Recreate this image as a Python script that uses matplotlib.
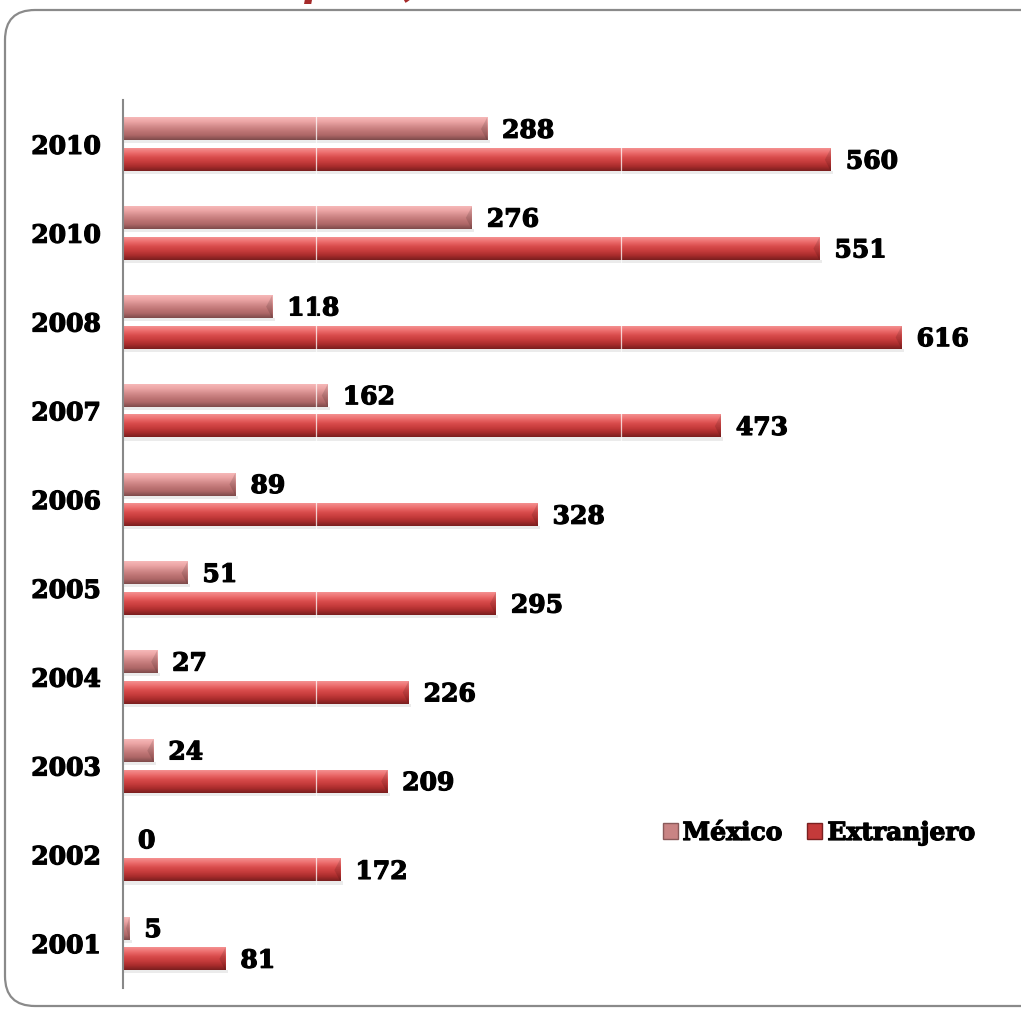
import numpy as np
import matplotlib.pyplot as plt
import matplotlib.patheffects as pe
from matplotlib.colors import LinearSegmentedColormap
from matplotlib.patches import FancyBboxPatch

# Data (top to bottom, as in the reference)
years = ["2010", "2010", "2008", "2007", "2006", "2005", "2004", "2003", "2002", "2001"]
mexico = [288, 276, 118, 162, 89, 51, 27, 24, 0, 5]
extranjero = [560, 551, 616, 473, 328, 295, 226, 209, 172, 81]
series_names = ["México", "Extranjero"]
grid_values = [153, 394]

W, H = 1021, 1009
fig = plt.figure(figsize=(W / 100, H / 100), dpi=100)

# axes placed in pixel terms
ax_left, ax_right, ax_top, ax_bottom = 123, 1021, 100, 988
ax = fig.add_axes([ax_left / W, 1 - ax_bottom / H,
                   (ax_right - ax_left) / W, (ax_bottom - ax_top) / H])

px_per_unit = 1.264
ax.set_xlim(0, (ax_right - ax_left) / px_per_unit)
ax.set_ylim(len(years) - 0.5, -0.5)

heavy = [pe.withStroke(linewidth=0.9, foreground="black")]
font = dict(family="DejaVu Serif", weight="bold", size=18, path_effects=heavy)

mex_cmap = LinearSegmentedColormap.from_list(
    "mex", ["#f6b8b8", "#eba4a4", "#d48c8c", "#c07676", "#ad6666", "#7e4a4a"])
ext_cmap = LinearSegmentedColormap.from_list(
    "ext", ["#f49090", "#ec6c6c", "#d94c4c", "#c63c3c", "#a92c2c", "#7a1e1e"])

y = np.arange(len(years))
offset = 0.173
height = 0.255
grad = np.linspace(0, 1, 64).reshape(-1, 1)


def draw_bars(values, ypos, cmap):
    bars = ax.barh(ypos, values, height=height, color="none", edgecolor="none")
    for b in bars:
        x0, y0 = b.get_x(), b.get_y()
        w, h = b.get_width(), b.get_height()
        if w <= 0:
            continue
        # soft shadow under the bar
        ax.add_patch(plt.Rectangle((x0, y0 + h), w + 2, 0.035,
                                   color="#000000", alpha=0.08, lw=0, zorder=1))
        ax.imshow(grad, extent=(x0, x0 + w, y0 + h, y0), cmap=cmap,
                  aspect="auto", interpolation="bilinear", zorder=2)
        # bevel on the right end
        bw = min(6 / px_per_unit, w / 2)
        ax.fill([x0 + w - bw, x0 + w, x0 + w],
                [y0 + h / 2, y0, y0 + h], color="#000000", alpha=0.12,
                lw=0, zorder=3)
    return bars


draw_bars(mexico, y - offset, mex_cmap)
draw_bars(extranjero, y + offset, ext_cmap)

for gv in grid_values:
    ax.axvline(gv, color="white", lw=0.9, alpha=0.75, zorder=4)

# value labels
for i in range(len(years)):
    ax.text(mexico[i] + 15 / px_per_unit, y[i] - offset + 0.02, str(mexico[i]),
            va="center", ha="left", **font)
    ax.text(extranjero[i] + 15 / px_per_unit, y[i] + offset + 0.02, str(extranjero[i]),
            va="center", ha="left", **font)

ax.set_yticks(y)
ax.set_yticklabels(years, family="DejaVu Serif", weight="bold", size=18)
for t in ax.get_yticklabels():
    t.set_path_effects(heavy)
ax.tick_params(axis="y", length=0, pad=16)
ax.set_xticks([])
for s in ["top", "right", "bottom"]:
    ax.spines[s].set_visible(False)
ax.spines["left"].set_color("#888888")
ax.spines["left"].set_linewidth(1.5)

# legend
handles = [plt.Rectangle((0, 0), 1, 1, facecolor="#c98484", edgecolor="#8a5a5a"),
           plt.Rectangle((0, 0), 1, 1, facecolor="#c43a3a", edgecolor="#7a2020")]
leg = fig.legend(handles, series_names, loc="center left",
                 bbox_to_anchor=(640 / W, 1 - 833 / H), ncol=2, frameon=False,
                 handlelength=0.6, handleheight=0.6, handletextpad=0.2,
                 columnspacing=1.0, prop=dict(family="DejaVu Serif", weight="bold", size=18))
for t in leg.get_texts():
    t.set_path_effects(heavy)

# rounded frame around the chart
frame = FancyBboxPatch((5, H - 1006), 1060, 996,
                       boxstyle="round,pad=0,rounding_size=30",
                       transform=None, facecolor="none",
                       edgecolor="#8a8a8a", lw=1.6, zorder=0)
fig.patches.append(frame)

# cut-off title at the top of the picture
fig.text(303 / W, 1 + 5 / H, "p", color="#a52a2a", style="italic",
         family="DejaVu Serif", weight="bold", size=30, va="baseline")
fig.text(403 / W, 1 + 5 / H, ",", color="#a52a2a", style="italic",
         family="DejaVu Serif", weight="bold", size=30, va="baseline")

fig.savefig("out.png", dpi=100)
